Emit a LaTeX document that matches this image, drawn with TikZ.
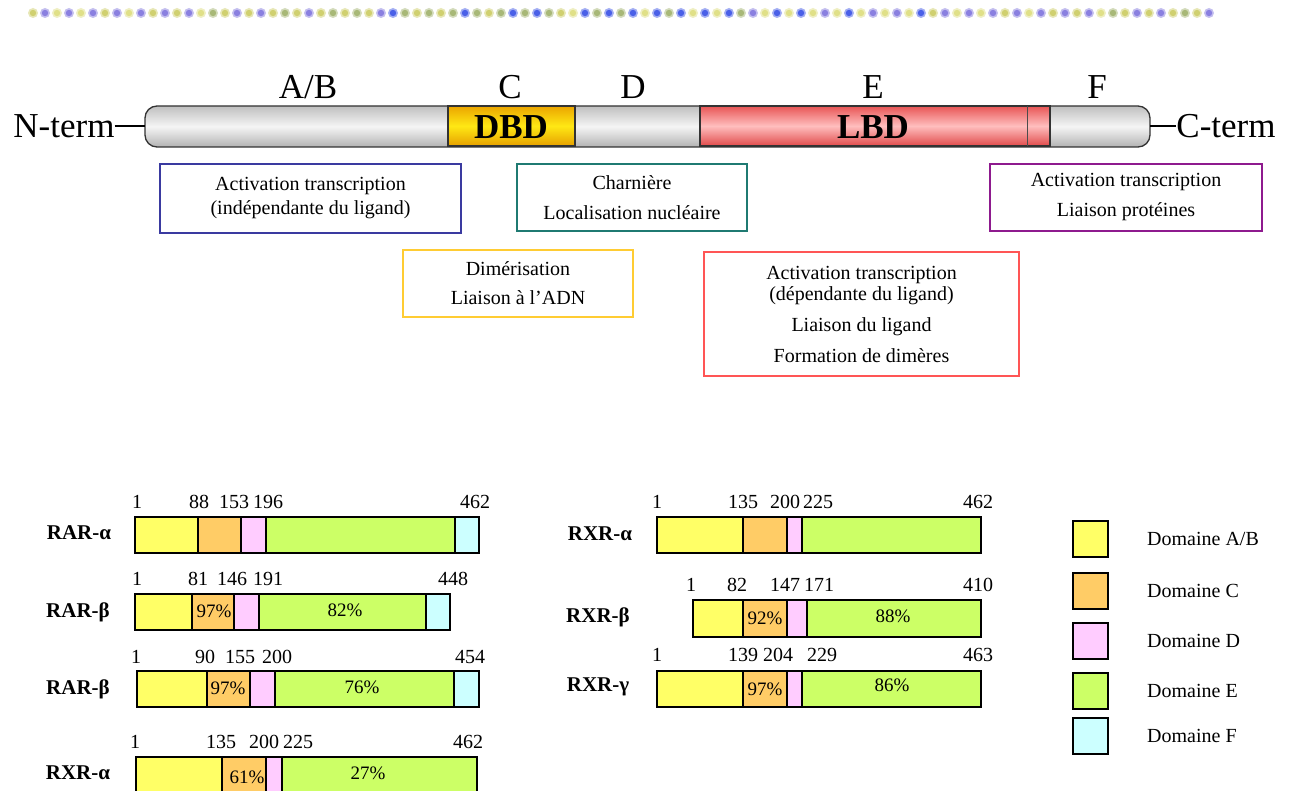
\documentclass[tikz,border=0pt]{standalone}
\usepackage{fontspec}
\setmainfont{Liberation Serif}
\definecolor{cAB}{HTML}{FFFF66}
\definecolor{cC}{HTML}{FFCC66}
\definecolor{cD}{HTML}{FFCCFF}
\definecolor{cE}{HTML}{CCFF66}
\definecolor{cF}{HTML}{CCFFFF}
\definecolor{bBlue}{HTML}{3A3AA0}
\definecolor{bTeal}{HTML}{1F7A72}
\definecolor{bPurple}{HTML}{8E1A8E}
\definecolor{bYellow}{HTML}{FFCC33}
\definecolor{bRed}{HTML}{FF5555}
\definecolor{dA}{HTML}{D0D070}
\definecolor{dB}{HTML}{4A60E8}
\definecolor{dC}{HTML}{8A80E0}
\definecolor{dD}{HTML}{A8B878}
\definecolor{dE}{HTML}{E0E088}
\tikzset{
  tbox/.style={draw, line width=1.4pt, inner sep=0pt, align=center, font=\fontsize{20}{24}\selectfont},
  seg/.style={draw=black, line width=1.3pt},
  num/.style={inner sep=0pt, font=\fontsize{20}{24}\selectfont},
  pct/.style={inner sep=0pt, font=\fontsize{19}{22}\selectfont},
  lbl/.style={inner sep=0pt, font=\bfseries\fontsize{21}{24}\selectfont},
  big/.style={inner sep=0pt, font=\fontsize{35}{38}\selectfont},
  bigb/.style={inner sep=0pt, font=\bfseries\fontsize{35}{38}\selectfont},
  leg/.style={inner sep=0pt, anchor=west, font=\fontsize{20}{24}\selectfont}
}
\begin{document}
\begin{tikzpicture}[x=1pt,y=-1pt]
\useasboundingbox (0,0) rectangle (1296,791);
\clip (0,0) rectangle (1296,791);
\fill[white] (0,0) rectangle (1296,791);
% dotted top line
\foreach \i in {0,...,98}{
  \pgfmathtruncatemacro{\k}{mod(\i*7+int(\i/3)+int(\i/5),5)}
  \ifcase\k \def\dc{dA}\or \def\dc{dB}\or \def\dc{dC}\or \def\dc{dD}\or \def\dc{dE}\fi
  \fill[\dc, opacity=0.5] ({33+12*\i},13) circle (5);
  \fill[\dc] ({33+12*\i},13) circle (3.2);
}
% protein bar
\coordinate (nl) at (145,126);
\coordinate (cr) at (1150,126);
\shade[top color=black!25, bottom color=black!30, middle color=black!4, rounded corners=12]
  (145,106) rectangle (1150,147);
\draw[line width=1.3pt, black!80, rounded corners=12] (145,106) rectangle (1150,147);
\shade[top color={rgb,255:red,235;green,165;blue,0}, bottom color={rgb,255:red,230;green,160;blue,0}, middle color={rgb,255:red,255;green,232;blue,20}]
  (448,106) rectangle (575,146);
\draw[line width=1.3pt, black!80] (448,106) rectangle (575,146);
\shade[top color={rgb,255:red,232;green,85;blue,85}, bottom color={rgb,255:red,225;green,75;blue,75}, middle color={rgb,255:red,255;green,190;blue,190}]
  (700,106) rectangle (1050,146);
\draw[line width=1.3pt, black!80] (700,106) rectangle (1050,146);
\draw[line width=1pt, black!70] (1027,106) -- (1027,146);
\node[bigb] (dbd) at (511,127) {DBD};
\node[bigb] (lbd) at (873,127) {LBD};
\node[big] (nterm) at (64,126) {N-term};
\node[big] (cterm) at (1226,126) {C-term};
\draw[line width=1.2pt] (nterm.east) -- (nl);
\draw[line width=1.2pt] (cr) -- (cterm.west);
\node[big] (lab) at (308,87) {A/B};
\node[big] (lc) at (510,87) {C};
\node[big] (ld) at (633,87) {D};
\node[big] (le) at (873,87) {E};
\node[big] (lf) at (1097,87) {F};
% function boxes
\node[tbox, draw=bBlue, minimum width=301, minimum height=69] (b1) at (310.5,198.5)
  {Activation transcription\\(indépendante du ligand)};
\node[tbox, draw=bTeal, minimum width=230, minimum height=67] (b2) at (632,197.5)
  {Charnière\\[6pt]Localisation nucléaire};
\node[tbox, draw=bPurple, minimum width=272, minimum height=67] (b3) at (1126,197.5)
  {Activation transcription\\[6pt]Liaison protéines};
\node[tbox, draw=bYellow, minimum width=230, minimum height=67] (b4) at (518,283.5)
  {Dimérisation\\[5pt]Liaison à l’ADN};
\node[tbox, draw=bRed, minimum width=315, minimum height=124, font=\fontsize{20}{21}\selectfont] (b5) at (861.5,314)
  {Activation transcription\\(dépendante du ligand)\\[10pt]Liaison du ligand\\[10pt]Formation de dimères};
% ---- bars left column
% RAR-alpha
\foreach \a/\b/\c in {135/198/cAB,198/241/cC,241/266/cD,266/455/cE,455/479/cF}
  \filldraw[seg, fill=\c] (\a,517) rectangle (\b,553);
\node[lbl] (l1) at (79,533) {RAR-α};
\node[num] (n11) at (137,502) {1};
\node[num] (n12) at (199,502) {88};
\node[num] (n13) at (234,502) {153};
\node[num] (n14) at (268,502) {196};
\node[num] (n15) at (475,502) {462};
% RAR-beta
\foreach \a/\b/\c in {135/192/cAB,192/234/cC,234/259/cD,259/426/cE,426/450/cF}
  \filldraw[seg, fill=\c] (\a,594) rectangle (\b,630);
\node[lbl] (l2) at (78,612) {RAR-β};
\node[num] (n21) at (137,579) {1};
\node[num] (n22) at (198,579) {81};
\node[num] (n23) at (232,579) {146};
\node[num] (n24) at (268,579) {191};
\node[num] (n25) at (453,579) {448};
\node[pct] (p21) at (214,611) {97\%};
\node[pct] (p22) at (345,610) {82\%};
% RAR-beta (2)
\foreach \a/\b/\c in {137/207/cAB,207/250/cC,250/275/cD,275/454/cE,454/479/cF}
  \filldraw[seg, fill=\c] (\a,671) rectangle (\b,707);
\node[lbl] (l3) at (78,689) {RAR-β};
\node[num] (n31) at (136,657) {1};
\node[num] (n32) at (205,657) {90};
\node[num] (n33) at (240,657) {155};
\node[num] (n34) at (277,657) {200};
\node[num] (n35) at (470,657) {454};
\node[pct] (p31) at (228,688) {97\%};
\node[pct] (p32) at (362,687) {76\%};
% RXR-alpha (bottom left)
\foreach \a/\b/\c in {136/222/cAB,222/266/cC,266/282/cD,282/477/cE}
  \filldraw[seg, fill=\c] (\a,757) rectangle (\b,800);
\node[lbl] (l4) at (78,773) {RXR-α};
\node[num] (n41) at (135,742) {1};
\node[num] (n42) at (221,742) {135};
\node[num] (n43) at (264,742) {200};
\node[num] (n44) at (298,742) {225};
\node[num] (n45) at (468,742) {462};
\node[pct] (p41) at (247,777) {61\%};
\node[pct] (p42) at (368,773) {27\%};
% ---- bars right column
% RXR-alpha
\foreach \a/\b/\c in {657/743/cAB,743/787/cC,787/802/cD,802/981/cE}
  \filldraw[seg, fill=\c] (\a,517) rectangle (\b,553);
\node[lbl] (r1) at (600,534) {RXR-α};
\node[num] (m11) at (657,502) {1};
\node[num] (m12) at (743,502) {135};
\node[num] (m13) at (785,502) {200};
\node[num] (m14) at (818,502) {225};
\node[num] (m15) at (978,502) {462};
% RXR-beta
\foreach \a/\b/\c in {693/743/cAB,743/787/cC,787/807/cD,807/981/cE}
  \filldraw[seg, fill=\c] (\a,600) rectangle (\b,637);
\node[lbl] (r2) at (598,617) {RXR-β};
\node[num] (m21) at (691,585) {1};
\node[num] (m22) at (737,585) {82};
\node[num] (m23) at (785,585) {147};
\node[num] (m24) at (819,585) {171};
\node[num] (m25) at (978,585) {410};
\node[pct] (q21) at (765,618) {92\%};
\node[pct] (q22) at (893,616) {88\%};
% RXR-gamma
\foreach \a/\b/\c in {657/743/cAB,743/787/cC,787/802/cD,802/981/cE}
  \filldraw[seg, fill=\c] (\a,671) rectangle (\b,707);
\node[lbl] (r3) at (598,687) {RXR-γ};
\node[num] (m31) at (657,655) {1};
\node[num] (m32) at (743,655) {139};
\node[num] (m33) at (778,655) {204};
\node[num] (m34) at (822,655) {229};
\node[num] (m35) at (978,655) {463};
\node[pct] (q31) at (765,689) {97\%};
\node[pct] (q32) at (892,685) {86\%};
% legend
\foreach \y/\c/\t/\n in {539/cAB/{Domaine A/B}/g1,591/cC/{Domaine C}/g2,641/cD/{Domaine D}/g3,691/cE/{Domaine E}/g4,736/cF/{Domaine F}/g5}{
  \filldraw[seg, fill=\c] (1073,\y-18) rectangle (1108,\y+18);
  \node[leg] (\n) at (1147,\y) {\t};
}
\end{tikzpicture}
\end{document}
